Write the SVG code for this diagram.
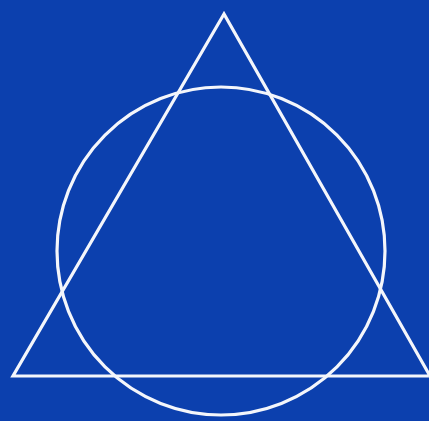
<svg xmlns="http://www.w3.org/2000/svg" width="429" height="421" viewBox="0 0 429 421">
<style>.s{fill:none;stroke:#f4f6fb;stroke-width:3.2;stroke-linejoin:miter}</style>
<rect width="429" height="421" fill="#0c40ae"/>
<g id="circle"><circle class="s" cx="221" cy="251" r="164"/></g>
<g id="triangle"><polygon class="s" points="224,14 13,376 430,376"/></g>
</svg>
